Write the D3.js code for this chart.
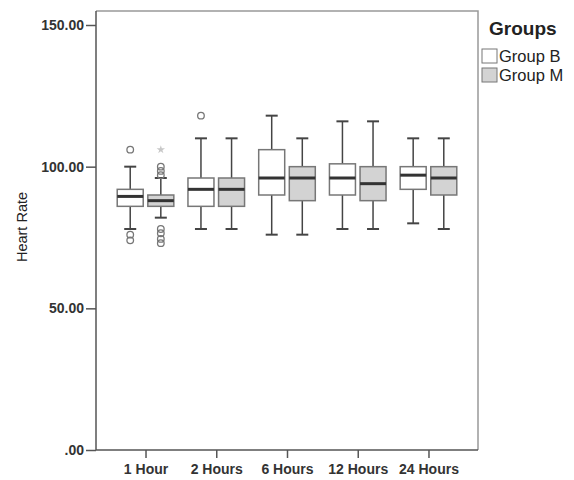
<!DOCTYPE html>
<html>
<head>
<meta charset="utf-8">
<script src="https://cdn.jsdelivr.net/npm/d3@7"></script>
<style>
  body { margin: 0; background: #fff; }
  text { font-family: "Liberation Sans", Arial, sans-serif; }
</style>
</head>
<body>
<div id="chart"></div>
<script>
// Data
var categories = ["1 Hour", "2 Hours", "6 Hours", "12 Hours", "24 Hours"];
var groups = ["Group B", "Group M"];
var yTicks = [0, 50, 100, 150];

var groupB_low  = [78, 78, 76, 78, 80];
var groupB_q1   = [86, 86, 90, 90, 92];
var groupB_med  = [89.5, 92, 96, 96, 97];
var groupB_q3   = [92, 96, 106, 101, 100];
var groupB_high = [100, 110, 118, 116, 110];

var groupM_low  = [82, 78, 76, 78, 78];
var groupM_q1   = [86, 86, 88, 88, 90];
var groupM_med  = [88, 92, 96, 94, 96];
var groupM_q3   = [90, 96, 100, 100, 100];
var groupM_high = [96, 110, 110, 116, 110];

// outliers: category, group, value, kind (circle / star)
var outlierCat   = ["1 Hour", "1 Hour", "1 Hour", "1 Hour", "1 Hour", "1 Hour", "1 Hour", "1 Hour", "1 Hour", "1 Hour", "1 Hour", "2 Hours"];
var outlierGroup = ["Group B", "Group B", "Group B", "Group M", "Group M", "Group M", "Group M", "Group M", "Group M", "Group M", "Group M", "Group B"];
var outlierValue = [106, 76, 74, 106, 100, 98.5, 97, 78, 76.5, 74.5, 73, 118];
var outlierKind  = ["circle", "circle", "circle", "star", "circle", "circle", "circle", "circle", "circle", "circle", "circle", "circle"];

var boxes = [];
categories.forEach(function(c, i) {
  boxes.push({cat: c, group: "Group B", low: groupB_low[i], q1: groupB_q1[i], med: groupB_med[i], q3: groupB_q3[i], high: groupB_high[i]});
  boxes.push({cat: c, group: "Group M", low: groupM_low[i], q1: groupM_q1[i], med: groupM_med[i], q3: groupM_q3[i], high: groupM_high[i]});
});
var outliers = outlierValue.map(function(v, i) {
  return {cat: outlierCat[i], group: outlierGroup[i], value: v, kind: outlierKind[i]};
});

var W = 574, H = 480;
var plotLeft = 96, plotRight = 478, plotTop = 11, plotBottom = 450;

var svg = d3.select("#chart").append("svg")
  .attr("width", W)
  .attr("height", H);

var x = d3.scalePoint()
  .domain(categories)
  .range([plotLeft, plotRight])
  .padding(0.7);

var g = d3.scaleOrdinal()
  .domain(groups)
  .range([-15.3, 15.3]);

var fill = d3.scaleOrdinal()
  .domain(groups)
  .range(["#ffffff", "#d3d3d3"]);

var y = d3.scaleLinear()
  .domain([0, 150])
  .range([plotBottom, 25]);

var boxW = 26, capW = 12;

// frame (top and right)
svg.append("path")
  .attr("d", "M" + plotLeft + "," + plotTop + "H" + plotRight + "V" + plotBottom)
  .attr("fill", "none")
  .attr("stroke", "#999")
  .attr("stroke-width", 1.5);

// Y axis
var yAxis = svg.append("g")
  .attr("transform", "translate(" + plotLeft + ",0)")
  .call(d3.axisLeft(y).tickValues(yTicks).tickSize(10).tickPadding(2)
    .tickFormat(function(d) { return d === 0 ? ".00" : d3.format(".2f")(d); }));
yAxis.select(".domain").attr("d", "M0," + plotTop + "V" + plotBottom);

// X axis
var xAxis = svg.append("g")
  .attr("transform", "translate(0," + plotBottom + ")")
  .call(d3.axisBottom(x).tickSize(8).tickPadding(6).tickSizeOuter(0));
xAxis.select(".domain").attr("d", "M" + plotLeft + ",0H" + plotRight);

svg.selectAll(".domain, .tick line")
  .attr("stroke", "#555")
  .attr("stroke-width", 1.5);
svg.selectAll(".tick text")
  .attr("fill", "#333")
  .style("font-size", "14px")
  .style("font-weight", "bold");

// Y label
svg.append("text")
  .attr("transform", "translate(27,227) rotate(-90)")
  .attr("text-anchor", "middle")
  .attr("fill", "#222")
  .style("font-size", "14.5px")
  .text("Heart Rate");

// boxes
var bx = svg.append("g").selectAll("g")
  .data(boxes)
  .enter().append("g")
  .attr("transform", function(d) { return "translate(" + (x(d.cat) + g(d.group)) + ",0)"; });

bx.append("line")
  .attr("y1", function(d) { return y(d.high); })
  .attr("y2", function(d) { return y(d.q3); })
  .attr("stroke", "#444").attr("stroke-width", 1.5);
bx.append("line")
  .attr("y1", function(d) { return y(d.q1); })
  .attr("y2", function(d) { return y(d.low); })
  .attr("stroke", "#444").attr("stroke-width", 1.5);
bx.append("line")
  .attr("x1", -capW / 2).attr("x2", capW / 2)
  .attr("y1", function(d) { return y(d.high); })
  .attr("y2", function(d) { return y(d.high); })
  .attr("stroke", "#444").attr("stroke-width", 2);
bx.append("line")
  .attr("x1", -capW / 2).attr("x2", capW / 2)
  .attr("y1", function(d) { return y(d.low); })
  .attr("y2", function(d) { return y(d.low); })
  .attr("stroke", "#444").attr("stroke-width", 2);
bx.append("rect")
  .attr("x", -boxW / 2)
  .attr("width", boxW)
  .attr("y", function(d) { return y(d.q3); })
  .attr("height", function(d) { return y(d.q1) - y(d.q3); })
  .attr("fill", function(d) { return fill(d.group); })
  .attr("stroke", "#777")
  .attr("stroke-width", 1.5);
bx.append("line")
  .attr("x1", -boxW / 2).attr("x2", boxW / 2)
  .attr("y1", function(d) { return y(d.med); })
  .attr("y2", function(d) { return y(d.med); })
  .attr("stroke", "#333").attr("stroke-width", 3);

// outliers
var ol = svg.append("g");
ol.selectAll("circle")
  .data(outliers.filter(function(d) { return d.kind === "circle"; }))
  .enter().append("circle")
  .attr("cx", function(d) { return x(d.cat) + g(d.group); })
  .attr("cy", function(d) { return y(d.value); })
  .attr("r", 3.3)
  .attr("fill", "none")
  .attr("stroke", "#777")
  .attr("stroke-width", 1.3);
ol.selectAll("path")
  .data(outliers.filter(function(d) { return d.kind === "star"; }))
  .enter().append("path")
  .attr("d", d3.symbol().type(d3.symbolStar).size(22))
  .attr("transform", function(d) { return "translate(" + (x(d.cat) + g(d.group)) + "," + y(d.value) + ")"; })
  .attr("fill", "#c8c8c8");

// legend
var lg = svg.append("g");
lg.append("text")
  .attr("x", 489).attr("y", 35)
  .attr("fill", "#222")
  .style("font-size", "19px")
  .style("font-weight", "bold")
  .text("Groups");
var li = lg.selectAll("g")
  .data(groups)
  .enter().append("g")
  .attr("transform", function(d, i) { return "translate(482," + (49 + i * 19) + ")"; });
li.append("rect")
  .attr("width", 15).attr("height", 14)
  .attr("fill", function(d) { return fill(d); })
  .attr("stroke", "#777")
  .attr("stroke-width", 1);
li.append("text")
  .attr("x", 17).attr("y", 13)
  .attr("fill", "#222")
  .style("font-size", "16.5px")
  .text(function(d) { return d; });
</script>
</body>
</html>
